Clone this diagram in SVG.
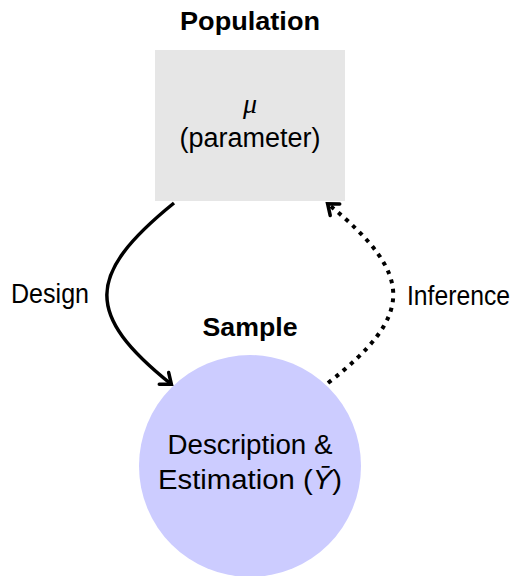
<svg xmlns="http://www.w3.org/2000/svg" width="519" height="576" viewBox="0 0 519 576">
  <style>
    .lbl { font-family: "Liberation Sans", Arial, sans-serif; font-size: 27px; fill: #000; }
    .title { font-family: "Liberation Sans", Arial, sans-serif; font-size: 26px; font-weight: bold; fill: #000; }
    .math { font-family: "Liberation Serif", "DejaVu Serif", serif; font-style: italic; font-size: 28px; fill: #000; }
    .edge { fill: none; stroke: #000; stroke-width: 3.5; }
    .dotted { stroke-width: 4; stroke-dasharray: 4 5.6; }
  </style>
  <defs>
    <marker id="head" markerUnits="userSpaceOnUse" markerWidth="22" markerHeight="22" refX="0" refY="0" viewBox="-13 -11 16 22" orient="auto">
      <path d="M-9,-7.5 Q-2,-2 0.5,0 Q-2,2 -9,7.5" fill="none" stroke="#000" stroke-width="3.5" stroke-linecap="round"/>
    </marker>
  </defs>

  <g id="population">
    <text class="title" x="250" y="30" text-anchor="middle" textLength="140" lengthAdjust="spacingAndGlyphs">Population</text>
    <rect x="155" y="50" width="190" height="151" fill="#e6e6e6"/>
    <text class="math" x="250" y="113" text-anchor="middle">μ</text>
    <text class="lbl" x="250" y="147" text-anchor="middle" textLength="141" lengthAdjust="spacingAndGlyphs">(parameter)</text>
  </g>

  <g id="sample">
    <text class="title" x="250" y="336" text-anchor="middle" textLength="95" lengthAdjust="spacingAndGlyphs">Sample</text>
    <circle cx="250" cy="466" r="111" fill="#ccccff"/>
    <text class="lbl" x="250" y="454" text-anchor="middle" textLength="165" lengthAdjust="spacingAndGlyphs">Description &amp;</text>
    <text class="lbl" x="250" y="489" text-anchor="middle" textLength="184" lengthAdjust="spacingAndGlyphs">Estimation (<tspan font-style="italic">Ȳ</tspan>)</text>
  </g>

  <g id="connectors">
    <path id="design" class="edge" d="M174,203 C85,275 85,315 171,384" marker-end="url(#head)"/>
    <path id="inference" class="edge dotted" d="M328,383 C415,315 415,275 328,204" marker-end="url(#head)"/>
    <text class="lbl" x="11" y="303" textLength="78" lengthAdjust="spacingAndGlyphs">Design</text>
    <text class="lbl" x="407" y="305" textLength="103" lengthAdjust="spacingAndGlyphs">Inference</text>
  </g>
</svg>
